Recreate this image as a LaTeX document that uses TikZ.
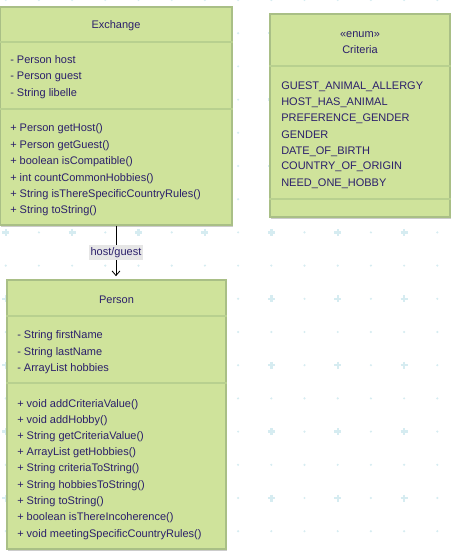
\documentclass[tikz,border=0pt]{standalone}
\usepackage{fontspec}
\setmainfont{Liberation Sans}
\usetikzlibrary{arrows.meta,shadows}

\definecolor{classfill}{HTML}{CFE39B}
\definecolor{boxline}{HTML}{A9BF86}
\definecolor{sepline}{HTML}{B8D08F}
\definecolor{ink}{HTML}{2B1F6B}
\definecolor{gridcol}{HTML}{D6ECF1}
\definecolor{labelbg}{HTML}{E6E6E6}

\begin{document}
\begin{tikzpicture}[x=0.75pt,y=-0.75pt,
    cbox/.style={draw=boxline,fill=classfill,line width=0.8pt,inner sep=0pt,
        drop shadow={shadow xshift=1pt,shadow yshift=-1.5pt,opacity=0.2,fill=black}},
    sep/.style={draw=sepline,line width=0.8pt},
    member/.style={anchor=base west,inner sep=0pt,text=ink,font=\fontsize{8.25}{10}\selectfont},
    ctitle/.style={anchor=base,inner sep=0pt,text=ink,font=\fontsize{8.25}{10}\selectfont}]
    \useasboundingbox (0,0) rectangle (454,556);

    % background grid
    \foreach \i in {0,...,13}
        \foreach \j in {0,...,16}
            \fill[gridcol] (5.7+33.2*\i,33.2*\j) circle (1.2);
    \foreach \i in {0,2,...,12}
        \foreach \j in {1,3,...,15}
            \draw[gridcol,line width=1.8pt] (5.7+33.2*\i-3.5,33.2*\j) -- ++(7,0)
                (5.7+33.2*\i,33.2*\j-3.5) -- ++(0,7);

    % Exchange
    \node[cbox,minimum width=174pt,minimum height=163.5pt] (exchange) at (116,116) {};
    \draw[sep] (exchange.west |- 0,42) -- (exchange.east |- 0,42);
    \draw[sep] (exchange.west |- 0,109) -- (exchange.east |- 0,109);
    \node[ctitle] (ex-title) at (116,29) {Exchange};
    \node[member] (ex-a1) at (10,64) {- Person host};
    \node[member] (ex-a2) at (10,80) {- Person guest};
    \node[member] (ex-a3) at (10,97) {- String libelle};
    \node[member] (ex-m1) at (10,132) {+ Person getHost()};
    \node[member] (ex-m2) at (10,148) {+ Person getGuest()};
    \node[member] (ex-m3) at (10,164.5) {+ boolean isCompatible()};
    \node[member] (ex-m4) at (10,181) {+ int countCommonHobbies()};
    \node[member] (ex-m5) at (10,197) {+ String isThereSpecificCountryRules()};
    \node[member] (ex-m6) at (10,213) {+ String toString()};

    % Criteria
    \node[cbox,minimum width=135pt,minimum height=152.25pt] (criteria) at (360,115.5) {};
    \draw[sep] (criteria.west |- 0,66) -- (criteria.east |- 0,66);
    \draw[sep] (criteria.west |- 0,199) -- (criteria.east |- 0,199);
    \node[ctitle] (cr-stereo) at (360,38) {«enum»};
    \node[ctitle] (cr-title) at (360,54) {Criteria};
    \node[member] (cr-v1) at (281,90) {GUEST\_ANIMAL\_ALLERGY};
    \node[member] (cr-v2) at (281,106) {HOST\_HAS\_ANIMAL};
    \node[member] (cr-v3) at (281,122) {PREFERENCE\_GENDER};
    \node[member] (cr-v4) at (281,138) {GENDER};
    \node[member] (cr-v5) at (281,154) {DATE\_OF\_BIRTH};
    \node[member] (cr-v6) at (281,170) {COUNTRY\_OF\_ORIGIN};
    \node[member] (cr-v7) at (281,186) {NEED\_ONE\_HOBBY};

    % Person
    \node[cbox,minimum width=164.25pt,minimum height=201.75pt] (person) at (116.5,414.5) {};
    \draw[sep] (person.west |- 0,316) -- (person.east |- 0,316);
    \draw[sep] (person.west |- 0,383) -- (person.east |- 0,383);
    \node[ctitle] (pe-title) at (116.5,303) {Person};
    \node[member] (pe-a1) at (17,338) {- String firstName};
    \node[member] (pe-a2) at (17,355) {- String lastName};
    \node[member] (pe-a3) at (17,371) {- ArrayList hobbies};
    \node[member] (pe-m1) at (17,407) {+ void addCriteriaValue()};
    \node[member] (pe-m2) at (17,423) {+ void addHobby()};
    \node[member] (pe-m3) at (17,439) {+ String getCriteriaValue()};
    \node[member] (pe-m4) at (17,455) {+ ArrayList getHobbies()};
    \node[member] (pe-m5) at (17,471) {+ String criteriaToString()};
    \node[member] (pe-m6) at (17,488) {+ String hobbiesToString()};
    \node[member] (pe-m7) at (17,504) {+ String toString()};
    \node[member] (pe-m8) at (17,520) {+ boolean isThereIncoherence()};
    \node[member] (pe-m9) at (17,537) {+ void meetingSpecificCountryRules()};

    % association
    \draw[-{Straight Barb[width=6pt,length=3.5pt]},line width=0.6pt,shorten >=2.5pt]
        (exchange.south) -- node[fill=labelbg,text=ink,inner xsep=1pt,inner ysep=2pt,
        font=\fontsize{8.25}{10}\selectfont] (assoc) {host/guest} (exchange.south |- person.north);
\end{tikzpicture}
\end{document}
